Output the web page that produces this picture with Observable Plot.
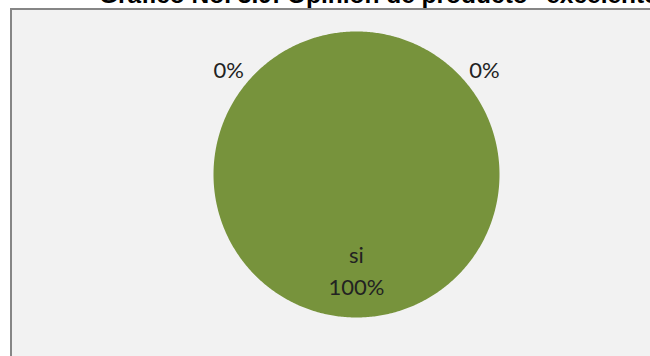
<!DOCTYPE html>
<html>
<head>
<meta charset="utf-8">
<script src="https://cdn.jsdelivr.net/npm/d3@7"></script>
<script src="https://cdn.jsdelivr.net/npm/@observablehq/plot@0.6"></script>
<style>
  html, body { margin: 0; padding: 0; background: #ffffff; overflow: hidden; }
  #page { position: relative; width: 650px; height: 356px; overflow: hidden; }
  #title {
    position: absolute; left: 99px; top: -17px; white-space: nowrap;
    font-family: "Liberation Sans", Arial, sans-serif; font-weight: bold;
    font-size: 24.5px; line-height: 24.5px; color: #000;
  }
  #frame {
    position: absolute; left: 10px; top: 8px; width: 640px; height: 348px;
    border-left: 2px solid #868686; border-top: 2px solid #868686;
    background: #f2f2f2;
  }
  #frame svg { display: block; background: transparent; }
</style>
</head>
<body>
<div id="page">
  <div id="title">Gráfico No. 3.9: Opinión de producto "excelente"</div>
  <div id="frame"></div>
</div>
<script>
// Data
const categories = ["si", "no", "a veces"];
const values = [100, 0, 0];
const sliceColors = ["#77933c", "#4f81bd", "#c0504d"];

const total = d3.sum(values);
const arcs = d3.pie().sort(null).value((d, i) => values[i])(categories);

// Slice outlines in unit-circle coordinates (angle 0 = 12 o'clock, clockwise)
const slicePts = [];
arcs.forEach((a, i) => {
  if (a.endAngle - a.startAngle <= 0) return;
  const n = Math.max(2, Math.ceil((a.endAngle - a.startAngle) / 0.01));
  slicePts.push({cat: categories[i], x: 0, y: 0});
  for (let k = 0; k <= n; k++) {
    const t = a.startAngle + (a.endAngle - a.startAngle) * k / n;
    slicePts.push({cat: categories[i], x: Math.sin(t), y: Math.cos(t)});
  }
});

// Labels: inside for non-zero slices, outside (spread left/right) for empty ones
const labels = [];
let zeroCount = 0;
arcs.forEach((a, i) => {
  const pct = Math.round(values[i] / total * 100) + "%";
  if (values[i] > 0) {
    const mid = (a.startAngle + a.endAngle) / 2;
    labels.push({x: 0.657 * Math.sin(mid), y: 0.657 * Math.cos(mid), text: categories[i] + "\n" + pct});
  } else {
    const ang = (zeroCount % 2 === 0 ? -1 : 1) * 50.1 * Math.PI / 180 + a.startAngle;
    labels.push({x: 1.166 * Math.sin(ang), y: 1.166 * Math.cos(ang), text: pct});
    zeroCount++;
  }
});

const cx = 344, cy = 164, R = 143;
const chart = Plot.plot({
  width: 638, height: 346,
  margin: 0,
  style: {background: "transparent", overflow: "visible"},
  x: {domain: [-1, 1], range: [cx - R, cx + R], axis: null},
  y: {domain: [-1, 1], range: [cy + R, cy - R], axis: null},
  color: {domain: categories, range: sliceColors},
  marks: [
    Plot.line(slicePts, {x: "x", y: "y", z: "cat", fill: "cat", stroke: "none", curve: "linear-closed"}),
    Plot.text(labels, {
      x: "x", y: "y", text: "text",
      fontFamily: "Lato, 'Open Sans', sans-serif", fontSize: 22,
      lineHeight: 1.45, fill: "#222222", textAnchor: "middle", lineAnchor: "middle"
    })
  ]
});
document.getElementById("frame").appendChild(chart);
</script>
</body>
</html>
